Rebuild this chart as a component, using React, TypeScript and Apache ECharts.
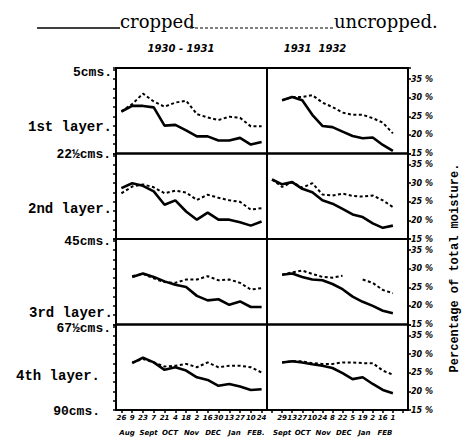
import React, { useEffect, useRef } from "react";
import * as echarts from "echarts";

// ---- data ----
const datesA = ["26", "9", "23", "7", "21", "4", "18", "2", "16", "30", "13", "27", "10", "24"];
const datesB = ["", "29", "13", "27", "10", "24", "8", "22", "5", "19", "2", "16", "1", ""];
const monthsA = ["Aug", "Sept", "OCT", "Nov", "DEC", "Jan", "FEB."];
const monthsB = ["Sept", "OCT", "Nov", "DEC", "Jan", "FEB"];
const seasons = ["1930 - 1931", "1931  1932"];
const depthLabels = ["5cms.", "22½cms.", "45cms.", "67½cms.", "90cms."];
const layerLabels = ["1st layer.", "2nd layer.", "3rd layer.", "4th layer."];
const pctTicks = [15, 20, 25, 30, 35];

// season 1930-31 (left column)
const croppedA1 = [26.3, 27.8, 27.8, 27.4, 22.5, 22.7, 21.2, 19.6, 19.6, 18.5, 18.5, 19.2, 17.4, 18.1];
const uncroppedA1 = [26.3, 28.3, 31.1, 29.0, 27.6, 28.7, 29.2, 25.6, 24.7, 24.0, 24.9, 24.6, 22.3, 22.3];
const croppedA2 = [28.7, 30.0, 29.3, 27.8, 24.2, 25.4, 22.4, 20.2, 22.1, 20.2, 20.2, 19.5, 18.6, 19.7];
const uncroppedA2 = [27.3, 29.1, 29.7, 28.9, 27.3, 28.0, 27.5, 25.5, 26.9, 26.1, 25.4, 25.0, 22.9, 23.3];
const croppedA3 = [null, 27.8, 28.7, 27.8, 26.6, 25.7, 25.1, 22.7, 21.5, 21.8, 20.3, 21.2, 19.7, 19.7];
const uncroppedA3 = [null, 28.0, 28.6, 27.4, 26.4, 26.2, 27.1, 27.1, 28.0, 26.9, 27.1, 26.2, 24.4, 24.8];
const croppedA4 = [null, 27.6, 29.1, 27.8, 25.8, 26.5, 25.6, 23.8, 23.1, 21.5, 22.0, 21.3, 20.4, 20.6];
const uncroppedA4 = [null, 27.8, 28.7, 27.8, 26.7, 26.9, 27.4, 26.5, 27.8, 26.5, 26.9, 26.9, 26.5, 25.1];

// season 1931-32 (right column)
const croppedB1 = [null, 29.3, 30.2, 29.3, 25.4, 22.4, 22.1, 20.9, 19.7, 19.1, 19.3, 17.3, 15.7, null];
const uncroppedB1 = [null, 29.3, 30.2, 30.2, 30.7, 28.7, 27.5, 26.0, 25.4, 25.4, 24.5, 23.3, 20.4, null];
const croppedB2 = [31.0, 29.7, 30.3, 28.5, 27.6, 25.4, 24.5, 23.1, 21.6, 20.9, 19.2, 18.0, 18.6, null];
const uncroppedB2 = [31.0, 29.0, 30.3, 28.8, 30.0, 27.0, 26.7, 27.2, 26.6, 26.4, 26.7, 25.4, 23.6, null];
const croppedB3 = [null, 28.4, 28.7, 27.8, 27.1, 26.9, 25.9, 24.5, 22.5, 21.1, 20.0, 18.7, 18.0, null];
const uncroppedB3 = [null, 28.4, 29.0, 29.5, 28.6, 27.8, 27.6, 28.1, null, 27.1, 26.2, 24.3, 23.4, null];
const croppedB4 = [null, 27.8, 28.1, 27.8, 27.3, 26.9, 26.3, 24.9, 23.3, 23.8, 22.0, 20.4, 19.5, null];
const uncroppedB4 = [null, 27.8, 28.1, 28.1, 27.6, 27.4, 27.4, 27.8, 27.8, 27.6, 27.6, 25.6, 24.5, null];

const croppedRows = [
  [croppedA1, croppedB1],
  [croppedA2, croppedB2],
  [croppedA3, croppedB3],
  [croppedA4, croppedB4],
];
const uncroppedRows = [
  [uncroppedA1, uncroppedB1],
  [uncroppedA2, uncroppedB2],
  [uncroppedA3, uncroppedB3],
  [uncroppedA4, uncroppedB4],
];

export default function App() {
  const ref = useRef<HTMLDivElement>(null);
  useEffect(() => {
    if (!ref.current) return;
    const chart = echarts.init(ref.current, null, { renderer: "svg" });

    const top0 = 68;
    const rowH = 85.5;
    const colLeft = [116, 267];
    const colW = [151, 141];
    const mono = '"Liberation Mono", "DejaVu Sans Mono", monospace';
    const sans = '"DejaVu Sans", sans-serif';
    const serif = '"DejaVu Serif", serif';

    const grids: any[] = [];
    const xAxes: any[] = [];
    const yAxes: any[] = [];
    const series: any[] = [];

    for (let r = 0; r < 4; r++) {
      for (let c = 0; c < 2; c++) {
        const g = grids.length;
        const bottom = r === 3;
        grids.push({
          left: colLeft[c],
          top: top0 + r * rowH,
          width: colW[c],
          height: rowH,
          show: true,
          borderColor: "#000",
          borderWidth: 2,
          backgroundColor: "transparent",
        });
        xAxes.push({
          type: "category",
          gridIndex: g,
          data: c === 0 ? datesA : datesB,
          boundaryGap: true,
          axisLine: { show: false },
          axisTick: {
            show: bottom,
            alignWithLabel: true,
            length: 3,
            lineStyle: { color: "#000", width: 1.5 },
            interval: 0,
          },
          axisLabel: {
            show: bottom,
            interval: 0,
            margin: 4,
            fontSize: 7,
            fontWeight: "bold",
            fontStyle: "italic",
            fontFamily: sans,
            color: "#000",
          },
          splitLine: { show: false },
        });
        if (c === 0) {
          yAxes.push({
            type: "value",
            gridIndex: g,
            min: 15,
            max: 38,
            interval: 2.5,
            position: "left",
            axisLine: { show: false },
            axisTick: { show: true, length: 3, lineStyle: { color: "#000", width: 1.5 } },
            axisLabel: { show: false },
            splitLine: { show: false },
          });
        } else {
          yAxes.push({
            type: "value",
            gridIndex: g,
            min: 15,
            max: 38,
            interval: 5,
            position: "right",
            axisLine: { show: false },
            axisTick: { show: true, length: 3, lineStyle: { color: "#000", width: 1.5 } },
            axisLabel: {
              show: true,
              margin: 3,
              fontSize: 8,
              fontWeight: "bold",
              fontStyle: "italic",
              fontFamily: sans,
              color: "#000",
              formatter: (v: number) => (pctTicks.indexOf(v) >= 0 ? `${v} %` : ""),
            },
            splitLine: { show: false },
          });
        }
        series.push({
          type: "line",
          name: "cropped",
          xAxisIndex: g,
          yAxisIndex: g,
          data: croppedRows[r][c],
          symbol: "none",
          connectNulls: false,
          lineStyle: { color: "#000", width: 2.6 },
        });
        series.push({
          type: "line",
          name: "uncropped",
          xAxisIndex: g,
          yAxisIndex: g,
          data: uncroppedRows[r][c],
          symbol: "none",
          connectNulls: false,
          lineStyle: { color: "#000", width: 2, type: [3, 2.5] },
        });
      }
    }

    const graphic: any[] = [];
    // title legend
    graphic.push({ type: "line", shape: { x1: 37, y1: 28, x2: 120, y2: 28 }, style: { stroke: "#000", lineWidth: 1.5 } });
    graphic.push({
      type: "text", x: 120, y: 21,
      style: { text: "cropped", fontSize: 18, fontFamily: serif, fill: "#000", textAlign: "left", textVerticalAlign: "middle" },
    });
    graphic.push({ type: "line", shape: { x1: 190, y1: 28, x2: 334, y2: 28 }, style: { stroke: "#000", lineWidth: 1.2, lineDash: [3, 2] } });
    graphic.push({
      type: "text", x: 334, y: 21,
      style: { text: "uncropped.", fontSize: 18, fontFamily: serif, fill: "#000", textAlign: "left", textVerticalAlign: "middle" },
    });
    // season headings
    const seasonX = [181, 315];
    seasons.forEach((s, i) =>
      graphic.push({
        type: "text", x: seasonX[i], y: 48,
        style: { text: s, fontSize: 10, fontWeight: "bold", fontStyle: "italic", fontFamily: sans, fill: "#000", textAlign: "center", textVerticalAlign: "middle" },
      })
    );
    // depth labels
    const depthY = [72, 154, 241, 328, 411];
    const depthX = [112, 111, 111, 111, 100];
    depthLabels.forEach((s, i) =>
      graphic.push({
        type: "text", x: depthX[i], y: depthY[i],
        style: { text: s, fontSize: 13, fontWeight: "bold", fontFamily: mono, fill: "#000", textAlign: "right", textVerticalAlign: "middle" },
      })
    );
    const layerY = [127, 209, 313, 376];
    const layerX = [112, 112, 113, 100];
    layerLabels.forEach((s, i) =>
      graphic.push({
        type: "text", x: layerX[i], y: layerY[i],
        style: { text: s, fontSize: 14, fontWeight: "bold", fontFamily: mono, fill: "#000", textAlign: "right", textVerticalAlign: "middle" },
      })
    );
    // months
    monthsA.forEach((m, i) =>
      graphic.push({
        type: "text", x: 127 + i * 21.5, y: 433,
        style: { text: m, fontSize: 7, fontWeight: "bold", fontStyle: "italic", fontFamily: sans, fill: "#000", textAlign: "center", textVerticalAlign: "middle" },
      })
    );
    monthsB.forEach((m, i) =>
      graphic.push({
        type: "text", x: 282 + i * 20.6, y: 433,
        style: { text: m, fontSize: 7, fontWeight: "bold", fontStyle: "italic", fontFamily: sans, fill: "#000", textAlign: "center", textVerticalAlign: "middle" },
      })
    );
    // vertical axis title
    graphic.push({
      type: "text", x: 455, y: 268, rotation: Math.PI / 2,
      style: { text: "Percentage of total moisture.", fontSize: 12, fontWeight: "bold", fontFamily: mono, fill: "#000", textAlign: "center", textVerticalAlign: "middle" },
    });

    chart.setOption({
      animation: false,
      backgroundColor: "#fff",
      grid: grids,
      xAxis: xAxes,
      yAxis: yAxes,
      series,
      graphic,
    });
    return () => chart.dispose();
  }, []);
  return (
    <div
      ref={ref}
      style={{ position: "fixed", left: 0, top: 0, width: 473, height: 439, background: "#fff" }}
    />
  );
}
